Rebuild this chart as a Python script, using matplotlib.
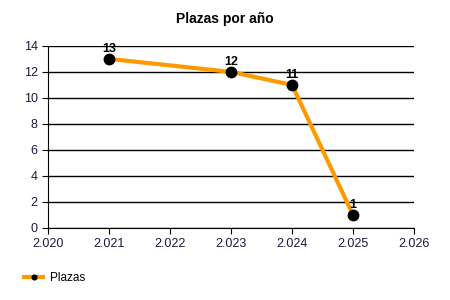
import numpy as np
import matplotlib.pyplot as plt
from matplotlib.ticker import FuncFormatter, MultipleLocator

years = [2021, 2023, 2024, 2025]
plazas = [13, 12, 11, 1]
series_name = "Plazas"

plt.rcParams['font.family'] = ['Liberation Sans', 'DejaVu Sans']

fig = plt.figure(figsize=(4.5, 3), dpi=100)
ax = fig.add_axes([0.107, 0.24, 0.813, 0.607])

ax.plot(years, plazas, color='#FF9900', lw=3, marker='o', ms=7.5,
        mfc='black', mec='black', label=series_name, zorder=3, solid_capstyle='butt')
for x, y in zip(years, plazas):
    ax.annotate(str(y), (x, y), textcoords='offset points', xytext=(0, 3),
                ha='center', va='bottom', fontsize=9, fontweight='bold', zorder=4)

ax.set_xlim(2020, 2026)
ax.set_ylim(0, 14)
ax.yaxis.set_major_locator(MultipleLocator(2))
ax.xaxis.set_major_locator(MultipleLocator(1))
ax.xaxis.set_major_formatter(FuncFormatter(lambda v, p: f"{v/1000:.3f}"))
ax.grid(axis='y', color='black', lw=1)
ax.set_axisbelow(True)
for s in ['top', 'right']:
    ax.spines[s].set_visible(False)
ax.tick_params(labelsize=9, length=4, colors='black', labelcolor='#1a1a40')

fig.text(0.5, 0.937, "Plazas por año", ha='center', va='center', fontsize=10, fontweight='bold')
fig.legend(loc='lower left', bbox_to_anchor=(0.025, 0.018), frameon=False,
           fontsize=8.5, handlelength=2, markerscale=0.45, handletextpad=0.4)

fig.savefig("out.png", dpi=100)
